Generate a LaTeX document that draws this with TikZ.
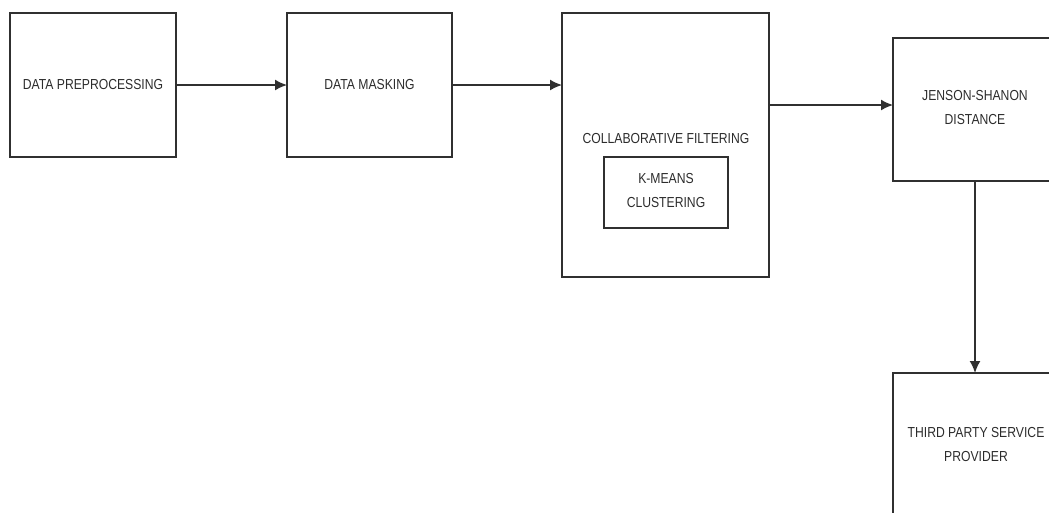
\documentclass[tikz,border=0pt]{standalone}
\usepackage{xcolor}
\usepackage{fontspec}
\setmainfont{Liberation Sans}[FakeStretch=0.84]
\usepackage{tikz}
\usetikzlibrary{shapes,arrows,arrows.meta,positioning,calc}

\definecolor{edge}{HTML}{303030}
\definecolor{label}{HTML}{2C2C2C}

\tikzset{
  stage/.style={draw=edge, line width=1.6pt, rectangle, outer sep=0pt, inner sep=0pt},
  caption/.style={text=label, font=\fontsize{14.5}{24}\selectfont, align=center, inner sep=0pt},
  flow/.style={draw=edge, line width=1.6pt, -{Latex[length=12pt,width=11pt]}}
}

\begin{document}
\begin{tikzpicture}[x=1pt, y=-1pt]
\useasboundingbox (0,0) rectangle (1049,512);
\clip (0,0) rectangle (1049,512);

% Stages
\node[stage, minimum width=166pt, minimum height=144pt] (prep) at (93,85) {};
\node[caption] (preptext) at (93,85) {DATA PREPROCESSING};

\node[stage, minimum width=165pt, minimum height=144pt] (mask) at (369.5,85) {};
\node[caption] (masktext) at (369.5,85) {DATA MASKING};

\node[stage, minimum width=207pt, minimum height=264pt] (cf) at (665.5,145) {};
\node[caption] (cftext) at (666,139) {COLLABORATIVE FILTERING};
\node[stage, line width=1.4pt, minimum width=124pt, minimum height=71pt] (kmeans) at (666,192.5) {};
\node[caption] (kmeanstext) at (666,191) {K-MEANS\\CLUSTERING};

\node[stage, minimum width=164pt, minimum height=143pt] (jsd) at (975,109.5) {};
\node[caption] (jsdtext) at (975,108) {JENSON-SHANON\\DISTANCE};

\node[stage, minimum width=164pt, minimum height=144pt] (tpsp) at (975,445) {};
\node[caption] (tpsptext) at (976,444) {THIRD PARTY SERVICE\\PROVIDER};

% Connectors
\draw[flow] (prep.east) -- (mask.west);
\draw[flow] (mask.east) -- (cf.west |- mask.east);
\draw[flow] ($(cf.east |- jsd.west)+(0,-4.5)$) -- ($(jsd.west)+(0,-4.5)$);
\draw[flow] (jsd.south) -- (tpsp.north);
\end{tikzpicture}
\end{document}
